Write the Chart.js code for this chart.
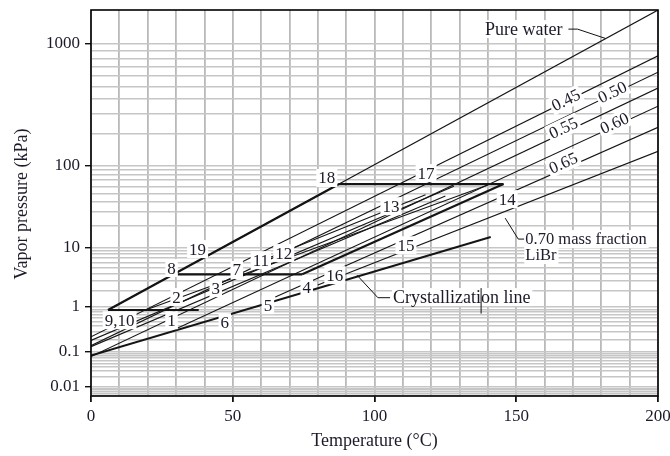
<!DOCTYPE html>
<html>
<head>
<meta charset="utf-8">
<script src="https://cdn.jsdelivr.net/npm/chart.js@4.4.1/dist/chart.umd.min.js"></script>
<style>
  html, body { margin: 0; padding: 0; background: #fff; }
</style>
</head>
<body>
<canvas id="myChart" width="670" height="456"></canvas>
<script>
// Dühring chart for LiBr-water: the pressure axis is laid out by the
// saturation temperature of pure water, so every line is straight.

const tempLabels = [0, 50, 100, 150, 200];
const pressureLabels = [0.01, 0.1, 1, 10, 100, 1000];
const gridDecades = [0.001, 0.01, 0.1, 1, 10, 100, 1000];
const gridSteps = [1, 2, 3, 4, 5, 6, 7, 8, 9];

// pure water (°C, kPa)
const waterT = [6, 200];
const waterP = [0.87, 1640];

// LiBr mass-fraction lines: start point and value at 200 °C
const fractionNames = ['0.45', '0.50', '0.55', '0.60', '0.65', '0.70'];
const fractionStartT = [0, 0, 0, 30.6, 65, 80];
const fractionStartP = [0.23, 0.142, 0.0755, 0.365, 1.55, 2.53];
const fractionEndP = [832, 637, 484, 348, 230, 138];
const fractionLabelT = [167.5, 183.9, 166.6, 184.6, 166.6];
const fractionLabelP = [390, 451, 227, 250, 106];

// crystallization line
const crystT = [0, 141];
const crystP = [0.0797, 14.1];

// cycle segments (°C, kPa)
const cycleSegments = [
  [[6, 0.87], [87.5, 63.4]],
  [[87.5, 63.4], [145.5, 63.4]],
  [[30.5, 3.85], [74.5, 3.85]],
  [[6, 0.87], [38, 0.87]],
  [[145.5, 63.4], [74.5, 3.85]],
  [[0, 0.19], [128, 60]],
  [[0, 0.134], [125, 46.6]],
  [[20, 0.9], [140, 62]],
  [[60, 6.3], [118, 48]]
];
const cycleBold = [true, true, true, true, true, false, false, false, false];

// state point numbers
const pointNames = ['1', '2', '3', '4', '5', '6', '7', '8', '9,10', '11', '12', '13', '14', '15', '16', '17', '18', '19'];
const pointT = [28.4, 30.2, 44.0, 76.1, 62.4, 47.2, 51.4, 28.4, 10.1, 59.9, 68.0, 105.8, 146.8, 111.1, 86.0, 118.2, 83.2, 37.6];
const pointP = [0.537, 1.54, 2.24, 2.33, 1.08, 0.488, 4.53, 4.87, 0.537, 6.49, 8.30, 35.3, 42.8, 10.8, 3.74, 83.2, 73.8, 9.50];

// call-outs (°C, kPa)
const waterNote = { text: 'Pure water', t: 139, p: 1250, size: 18, leader: [[168.4, 1250], [171.6, 1250], [181.4, 1090]] };
const fractionNote = { text: ['0.70 mass fraction', 'LiBr'], t: 153.2, p: 13.2, size: 16.5, leader: [[146.1, 25.1], [150.7, 13.2], [152.8, 13.2]] };
const crystNote = { text: 'Crystallization line', t: 106.5, p: 1.54, size: 18, leader: [[93.8, 3.74], [101.2, 1.5], [105.5, 1.5]] };
const crystEnd = [[137.6, 2.24], [137.6, 0.735]];

// Antoine fit for water, kPa <-> °C
const tsat = p => 1730.63 / (7.19621 - Math.log10(p)) - 233.426;
const psat = t => Math.pow(10, 7.19621 - 1730.63 / (t + 233.426));

class DuhringScale extends Chart.Scale {
  static id = 'duhring';
  static defaults = {};
  determineDataLimits() {
    this.min = this.options.min;
    this.max = this.options.max;
  }
  buildTicks() {
    const ticks = [];
    gridDecades.forEach(d => gridSteps.forEach(s => {
      const v = +(d * s).toPrecision(3);
      if (v >= this.min && v <= this.max) ticks.push({ value: v });
    }));
    return ticks;
  }
  getLabelForValue(v) { return String(v); }
  configure() {
    super.configure();
    this._u0 = tsat(this.min);
    this._u1 = tsat(this.max);
  }
  getPixelForValue(v) {
    return this.getPixelForDecimal((tsat(v) - this._u0) / (this._u1 - this._u0));
  }
  getValueForPixel(px) {
    return psat(this._u0 + this.getDecimalForPixel(px) * (this._u1 - this._u0));
  }
}
Chart.register(DuhringScale);

const pts = (ts, ps) => ts.map((t, i) => ({ x: t, y: ps[i] }));
const line = (data, w) => ({ data, borderWidth: w, borderColor: '#151515', pointRadius: 0, fill: false });

const datasets = [];
datasets.push(line(pts(waterT, waterP), 1.1));
fractionNames.forEach((n, i) => {
  datasets.push(line(pts([fractionStartT[i], 200], [fractionStartP[i], fractionEndP[i]]), 1.1));
});
datasets.push(line(pts(crystT, crystP), 2));
cycleSegments.forEach((seg, i) => {
  datasets.push(line(seg.map(p => ({ x: p[0], y: p[1] })), cycleBold[i] ? 2.2 : 1.1));
});

const serif = '"Liberation Serif", "DejaVu Serif", serif';
const ink = '#1d1a2a';

function boxText(ctx, text, px, py, angle) {
  ctx.save();
  ctx.translate(px, py);
  ctx.rotate(angle || 0);
  const w = ctx.measureText(text).width;
  ctx.fillStyle = '#fff';
  ctx.fillRect(-w / 2 - 2, -9, w + 4, 18);
  ctx.fillStyle = ink;
  ctx.textAlign = 'center';
  ctx.textBaseline = 'middle';
  ctx.fillText(text, 0, 1);
  ctx.restore();
}

const annotate = {
  id: 'annotate',
  afterDatasetsDraw(chart) {
    const { ctx, chartArea: a, scales: { x, y } } = chart;
    const X = t => x.getPixelForValue(t);
    const Y = p => y.getPixelForValue(p);
    ctx.save();
    ctx.font = '17px ' + serif;

    // mass fraction names along their lines
    fractionLabelT.forEach((t, i) => {
      const ang = Math.atan2(Y(fractionEndP[i]) - Y(fractionStartP[i]), X(200) - X(fractionStartT[i]));
      boxText(ctx, fractionNames[i], X(t), Y(fractionLabelP[i]), ang);
    });

    // state point numbers
    pointNames.forEach((n, i) => boxText(ctx, n, X(pointT[i]), Y(pointP[i]), 0));

    // call-outs
    ctx.strokeStyle = '#111';
    ctx.lineWidth = 1;
    ctx.textBaseline = 'middle';
    ctx.textAlign = 'left';
    [waterNote, fractionNote, crystNote].forEach(n => {
      ctx.font = n.size + 'px ' + serif;
      ctx.beginPath();
      n.leader.forEach((q, i) => (i ? ctx.lineTo(X(q[0]), Y(q[1])) : ctx.moveTo(X(q[0]), Y(q[1]))));
      ctx.stroke();
      const rows = [].concat(n.text);
      rows.forEach((r, i) => {
        const w = ctx.measureText(r).width;
        ctx.fillStyle = '#fff';
        ctx.fillRect(X(n.t) - 1, Y(n.p) + i * 16 - 9, w + 3, 18);
        ctx.fillStyle = ink;
        ctx.fillText(r, X(n.t), Y(n.p) + i * 16 + 1);
      });
    });
    ctx.beginPath();
    ctx.moveTo(X(crystEnd[0][0]), Y(crystEnd[0][1]));
    ctx.lineTo(X(crystEnd[1][0]), Y(crystEnd[1][1]));
    ctx.stroke();

    // frame
    ctx.strokeStyle = '#000';
    ctx.lineWidth = 1.6;
    ctx.strokeRect(a.left, a.top, a.right - a.left, a.bottom - a.top);

    // axis titles
    ctx.font = '18px ' + serif;
    ctx.fillStyle = ink;
    ctx.textAlign = 'center';
    ctx.fillText('Temperature (°C)', (a.left + a.right) / 2, 441);
    ctx.translate(22, 204);
    ctx.rotate(-Math.PI / 2);
    ctx.fillText('Vapor pressure (kPa)', 0, 0);
    ctx.restore();
  }
};

new Chart(document.getElementById('myChart'), {
  type: 'line',
  data: { datasets },
  options: {
    responsive: false,
    animation: false,
    devicePixelRatio: 1,
    layout: { padding: { left: 0, right: 12, top: 10, bottom: 0 } },
    plugins: { legend: { display: false }, tooltip: { enabled: false } },
    scales: {
      x: {
        type: 'linear',
        min: 0,
        max: 200,
        afterFit: s => { s.height = 60; s.paddingLeft = 0; s.paddingRight = 0; },
        border: { display: false },
        grid: {
          color: '#b9b9b9',
          lineWidth: 1.8,
          tickLength: 6,
          tickColor: c => (c.tick && c.tick.value % 50 === 0 ? '#111' : 'rgba(0,0,0,0)')
        },
        ticks: {
          stepSize: 10,
          autoSkip: false,
          maxRotation: 0,
          padding: 4,
          color: ink,
          font: { family: serif, size: 17 },
          callback: v => (tempLabels.includes(v) ? String(v) : '')
        }
      },
      y: {
        type: 'duhring',
        min: 0.005,
        max: 1640,
        afterFit: s => { s.width = 91; s.paddingTop = 0; s.paddingBottom = 0; },
        border: { display: false },
        grid: {
          color: '#c6c6c6',
          lineWidth: 1.4,
          tickLength: 6,
          tickColor: c => (c.tick && pressureLabels.includes(c.tick.value) ? '#111' : 'rgba(0,0,0,0)')
        },
        ticks: {
          autoSkip: false,
          padding: 5,
          color: ink,
          font: { family: serif, size: 17 },
          callback: v => (pressureLabels.includes(v) ? String(v) : '')
        }
      }
    }
  },
  plugins: [annotate]
});
</script>
</body>
</html>
